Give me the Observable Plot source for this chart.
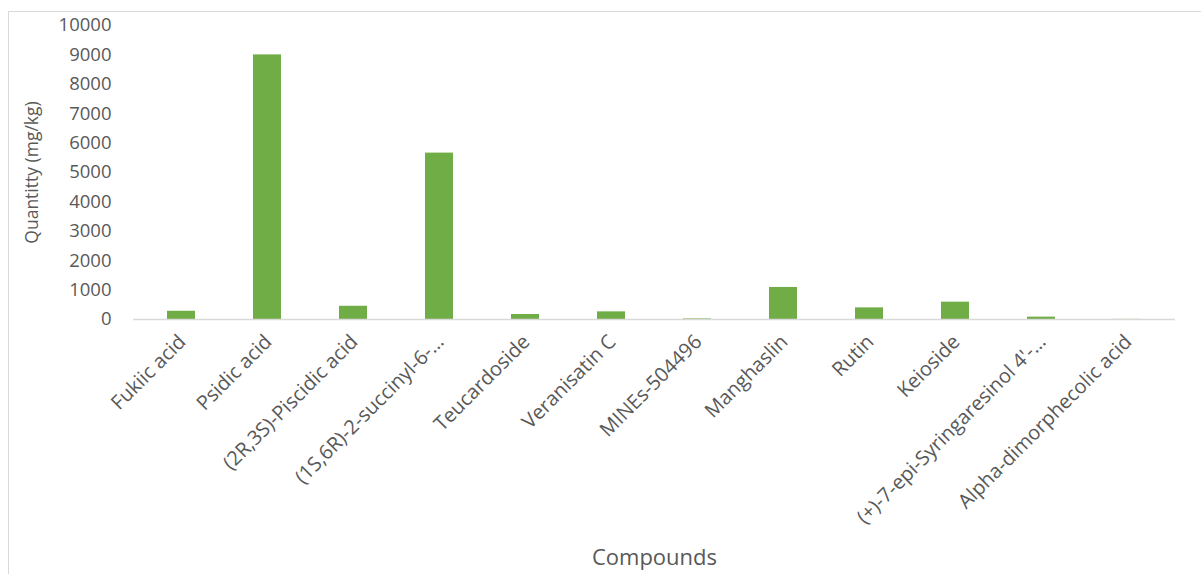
<!DOCTYPE html>
<html>
<head>
<meta charset="utf-8">
<script src="https://cdn.jsdelivr.net/npm/d3@7"></script>
<script src="https://cdn.jsdelivr.net/npm/@observablehq/plot@0.6"></script>
<style>
  html, body { margin: 0; padding: 0; background: #fff; }
  #chart { position: relative; width: 1201px; height: 574px; overflow: hidden; }
  #frame {
    position: absolute; left: 8px; top: 11px; width: 1220px; height: 600px;
    border: 1px solid #d9d9d9; box-sizing: border-box; pointer-events: none;
  }
  #chart svg { position: absolute; left: 0; top: 0; }
</style>
</head>
<body>
<div id="chart"><div id="frame"></div></div>
<script>
// Compounds and their measured quantities (mg/kg)
const compounds = [
  "Fukiic acid",
  "Psidic acid",
  "(2R,3S)-Piscidic acid",
  "(1S,6R)-2-succinyl-6-…",
  "Teucardoside",
  "Veranisatin C",
  "MINEs-504496",
  "Manghaslin",
  "Rutin",
  "Keioside",
  "(+)-7-epi-Syringaresinol 4'-…",
  "Alpha-dimorphecolic acid"
];
const quantities = [280, 9000, 450, 5660, 170, 260, 20, 1090, 395, 590, 80, 5];
const yTicks = [0, 1000, 2000, 3000, 4000, 5000, 6000, 7000, 8000, 9000, 10000];

const data = compounds.map((name, i) => ({name, value: quantities[i]}));

const font = "'Open Sans', sans-serif";
const grey = "#595959";

const chart = Plot.plot({
  width: 1201,
  height: 574,
  marginLeft: 133,
  marginRight: 26,
  marginTop: 25,
  marginBottom: 255,
  style: {fontFamily: font, color: grey, background: "transparent"},
  x: {domain: compounds, paddingInner: 0.68, paddingOuter: 0.34, label: null},
  y: {domain: [0, 10000], label: null},
  marks: [
    Plot.barY(data, {x: "name", y: "value", fill: "#70ad47"}),
    Plot.ruleY([0], {stroke: "#d9d9d9", strokeWidth: 1.5}),
    Plot.axisY({
      ticks: yTicks, tickSize: 0, tickPadding: 22, tickFormat: d => String(d),
      fontSize: 18.5, fill: grey, label: null
    }),
    Plot.axisX({
      tickSize: 0, tickRotate: -45, tickPadding: 19, dx: 1, fontSize: 20,
      fill: grey, label: null
    }),
    // axis titles
    Plot.text(["Quantitty (mg/kg)"], {
      frameAnchor: "left", textAnchor: "middle", dx: -101, rotate: -90,
      fontSize: 17.5, fill: grey
    }),
    Plot.text(["Compounds"], {
      frameAnchor: "bottom", dy: 245, fontSize: 22, fill: grey
    })
  ]
});

document.getElementById("chart").prepend(chart);
</script>
</body>
</html>
